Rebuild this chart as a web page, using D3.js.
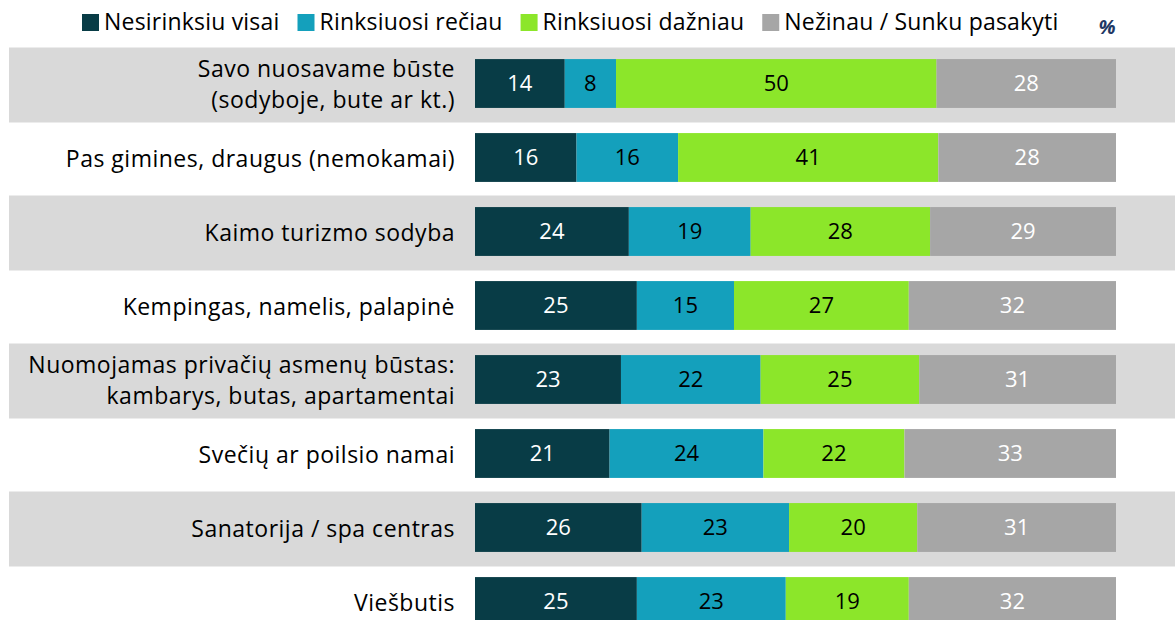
<!DOCTYPE html>
<html>
<head>
<meta charset="utf-8">
<script src="https://cdn.jsdelivr.net/npm/d3@7"></script>
<style>
	body { margin: 0; background: #fff; }
	svg { display: block; font-family: 'Open Sans', 'Noto Sans', sans-serif; }
</style>
</head>
<body>
<div class="svg-container"></div>
<script>
const w = 1175;
const h = 620;

// data
const categories = [
	['Savo nuosavame būste', '(sodyboje, bute ar kt.)'],
	['Pas gimines, draugus (nemokamai)'],
	['Kaimo turizmo sodyba'],
	['Kempingas, namelis, palapinė'],
	['Nuomojamas privačių asmenų būstas:', 'kambarys, butas, apartamentai'],
	['Svečių ar poilsio namai'],
	['Sanatorija / spa centras'],
	['Viešbutis'],
];
const seriesNames = ['Nesirinksiu visai', 'Rinksiuosi rečiau', 'Rinksiuosi dažniau', 'Nežinau / Sunku pasakyti'];
const never = [14, 16, 24, 25, 23, 21, 26, 25];
const less = [8, 16, 19, 15, 22, 24, 23, 23];
const more = [50, 41, 28, 27, 25, 22, 20, 19];
const dontKnow = [28, 28, 29, 32, 31, 33, 31, 32];

const colors = ['#083c46', '#14a0bc', '#8ce62a', '#a6a6a6'];
const textColors = ['#fff', '#000', '#000', '#fff'];

const rows = categories.map((c, i) => ({
	key: i,
	label: c,
	vals: [never[i], less[i], more[i], dontKnow[i]],
}));

const svg = d3
	.select('.svg-container')
	.append('svg')
	.attr('width', w)
	.attr('height', h);

const step = 74;
const y = d3
	.scaleBand()
	.domain(rows.map(d => d.key))
	.range([46.5, 46.5 + step * rows.length])
	.paddingInner(0.34)
	.paddingOuter(0.17);

const x = d3.scaleLinear().domain([0, 100]).range([475, 1116]);

// alternating grey bands
svg
	.selectAll('rect.band')
	.data(rows.filter(d => d.key % 2 === 0))
	.enter()
	.append('rect')
	.attr('class', 'band')
	.attr('x', 9)
	.attr('width', w - 9)
	.attr('y', d => y(d.key) + y.bandwidth() / 2 - step / 2 + 1)
	.attr('height', step + 1)
	.attr('fill', '#d9d9d9');

// shares are rounded, so each row is scaled to fill 100%
const stack = d3
	.stack()
	.keys([0, 1, 2, 3])
	.value((d, k) => (d.vals[k] / d3.sum(d.vals)) * 100);
const series = stack(rows);

const groups = svg
	.selectAll('g.series')
	.data(series)
	.enter()
	.append('g')
	.attr('class', 'series');

groups
	.selectAll('rect')
	.data(d => d)
	.enter()
	.append('rect')
	.attr('x', d => x(d[0]))
	.attr('width', d => x(d[1]) - x(d[0]))
	.attr('y', d => y(d.data.key))
	.attr('height', y.bandwidth())
	.attr('fill', function () {
		return colors[d3.select(this.parentNode).datum().key];
	});

groups
	.selectAll('text')
	.data(d => d.map(s => ({s, k: d.key})))
	.enter()
	.append('text')
	.attr('x', d => (x(d.s[0]) + x(d.s[1])) / 2)
	.attr('y', d => y(d.s.data.key) + y.bandwidth() / 2)
	.attr('dy', '0.36em')
	.style('text-anchor', 'middle')
	.style('font-size', '22px')
	.attr('fill', d => textColors[d.k])
	.text(d => d.s.data.vals[d.k]);

// category labels
const labels = svg
	.selectAll('text.cat')
	.data(rows)
	.enter()
	.append('text')
	.attr('class', 'cat')
	.attr('x', 455)
	.attr('y', d => y(d.key) + y.bandwidth() / 2 + 1)
	.style('text-anchor', 'end')
	.style('font-size', '23px')
	.style('letter-spacing', '0.5px')
	.attr('fill', '#000');

labels
	.selectAll('tspan')
	.data(d => d.label.map((t, i, arr) => ({t, i, n: arr.length})))
	.enter()
	.append('tspan')
	.attr('x', 455)
	.attr('dy', d => (d.i === 0 ? (0.36 - (d.n - 1) * 0.68) + 'em' : '1.36em'))
	.text(d => d.t);

// legend
const legend = svg.append('g').attr('id', 'legend');
let lx = 82;
seriesNames.forEach((name, i) => {
	legend
		.append('rect')
		.attr('x', lx)
		.attr('y', 14)
		.attr('width', 17)
		.attr('height', 17)
		.attr('fill', colors[i]);
	const t = legend
		.append('text')
		.attr('x', lx + 22)
		.attr('y', 22)
		.attr('dy', '0.36em')
		.style('font-size', '23px')
		.style('letter-spacing', '0.2px')
		.text(name);
	lx += 22 + t.node().getComputedTextLength() + 18;
});

svg
	.append('text')
	.attr('x', 1107)
	.attr('y', 27)
	.attr('dy', '0.36em')
	.style('text-anchor', 'middle')
	.style('font-size', '20px')
	.style('font-weight', 'bold')
	.style('font-style', 'italic')
	.attr('fill', '#1f3864')
	.text('%');
</script>
</body>
</html>
